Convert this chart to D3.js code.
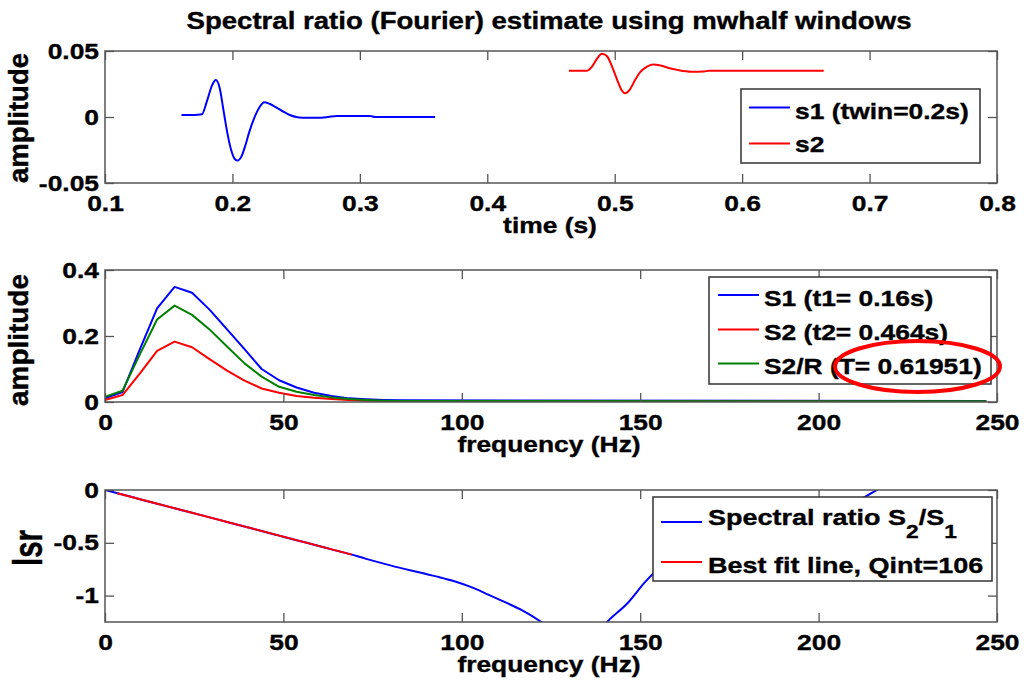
<!DOCTYPE html>
<html><head><meta charset="utf-8">
<script src="https://cdn.jsdelivr.net/npm/d3@7"></script>
<style>
body{margin:0;background:#fff}
text{font-family:"Liberation Sans",Arial,sans-serif;font-weight:bold;fill:#000;stroke:#000;stroke-width:0.35px}
</style>
</head><body>
<svg id="c" width="1024" height="685"></svg>
<script>
// ---------------- data ----------------
const titleText = "Spectral ratio (Fourier) estimate using mwhalf windows";

const timeTicks = [0.1,0.2,0.3,0.4,0.5,0.6,0.7,0.8];
const timeTickLabels = ["0.1","0.2","0.3","0.4","0.5","0.6","0.7","0.8"];
const ampTicks = [-0.05,0,0.05];
const ampTickLabels = ["-0.05","0","0.05"];

const s1Time = [0.160,0.170,0.176,0.180,0.184,0.187,0.190,0.193,0.196,0.199,0.202,0.204,0.207,0.210,0.213,0.217,0.221,0.225,0.229,0.234,0.240,0.245,0.250,0.255,0.270,0.275,0.282,0.308,0.312,0.359];
const s1Amp  = [0.0015,0.0015,0.002,0.012,0.024,0.028,0.022,0.005,-0.012,-0.025,-0.032,-0.033,-0.030,-0.022,-0.012,-0.001,0.007,0.0112,0.010,0.0075,0.004,0.0015,0.000,-0.0005,-0.0005,0.000,0.0008,0.0008,0.000,0.000];

const s2Time = [0.464,0.478,0.482,0.486,0.490,0.494,0.498,0.502,0.505,0.508,0.512,0.516,0.520,0.525,0.530,0.536,0.543,0.550,0.560,0.570,0.574,0.664];
const s2Amp  = [0.035,0.035,0.038,0.044,0.048,0.046,0.038,0.028,0.021,0.018,0.021,0.028,0.034,0.038,0.0398,0.039,0.037,0.0355,0.0343,0.0345,0.035,0.035];

const freqTicks = [0,50,100,150,200,250];
const freqTickLabels = ["0","50","100","150","200","250"];
const specTicks = [0,0.2,0.4];
const specTickLabels = ["0","0.2","0.4"];

const freq = [0,4.9,9.8,14.6,19.5,24.4,29.3,34.2,39.1,43.9,48.8,53.7,58.6,63.5,68.4,73.2,78.1,83.0,247];
const S1  = [0.011,0.030,0.16,0.284,0.349,0.331,0.28,0.22,0.16,0.10,0.066,0.044,0.028,0.018,0.011,0.008,0.006,0.005,0.003];
const S2  = [0.006,0.021,0.087,0.155,0.183,0.166,0.13,0.095,0.065,0.041,0.028,0.018,0.013,0.009,0.006,0.004,0.003,0.002,0.001];
const S2R = [0.016,0.034,0.145,0.25,0.292,0.264,0.22,0.168,0.117,0.077,0.046,0.031,0.021,0.014,0.009,0.006,0.004,0.003,0.002];

const lsrTicks = [-1,-0.5,0];
const lsrTickLabels = ["-1","-0.5","0"];
const lsrFreq = [0,4.9,9.8,14.6,19.5,24.4,29.3,34.2,39.1,43.9,48.8,53.7,58.6,63.5,68.4,73.2,78.1,83.0,87.9,92.8,97.7,102.5,107.4,112.3,117.2,122.1,127.0,131.8,136.7,141.6,146.5,151.4,156.3,161.1,170.9,180.7,190.4,200.2,210.0,214.8,219.7];
const lsr = [0,-0.043,-0.087,-0.13,-0.173,-0.216,-0.259,-0.303,-0.346,-0.389,-0.432,-0.475,-0.519,-0.562,-0.605,-0.652,-0.697,-0.74,-0.778,-0.818,-0.862,-0.918,-0.99,-1.065,-1.145,-1.245,-1.36,-1.43,-1.38,-1.22,-1.07,-0.87,-0.71,-0.60,-0.46,-0.38,-0.30,-0.22,-0.12,-0.03,0.07];
const fitFreq = [3.4,69.2];
const fitLsr = [-0.03,-0.612];

const legend1 = ["s1 (twin=0.2s)","s2"];
const legend2 = ["S1 (t1= 0.16s)","S2 (t2= 0.464s)","S2/R (T= 0.61951)"];
const legend3b = "Best fit line, Qint=106";

// ---------------- drawing ----------------
const svg = d3.select("#c");
const K = 1.2; // horizontal text stretch
const L = 105, R = 997;
const FRAME = "#555";

function htext(parent, x, y, str, size, anchor){
  const g = parent.append("g").attr("transform", `translate(${x},${y}) scale(${K},1)`);
  return g.append("text").attr("x",0).attr("y",0).attr("text-anchor",anchor||"start")
    .style("font-size", size+"px").text(str);
}
function vtext(x, y, str, size, len){
  const g = svg.append("g").attr("transform", `translate(${x},${y}) scale(${K},1) rotate(-90)`);
  g.append("text").attr("text-anchor","middle").style("font-size", size+"px")
    .attr("textLength", len).attr("lengthAdjust","spacingAndGlyphs").text(str);
}

let clipId = 0;
function panel(top, bottom, xs, ys, xt, xl, yt, yl){
  const id = "clip"+(clipId++);
  svg.append("clipPath").attr("id", id).append("rect")
    .attr("x", L).attr("y", top).attr("width", R-L).attr("height", bottom-top);
  const gData = svg.append("g").attr("clip-path", `url(#${id})`);
  const gAx = svg.append("g");
  const styleAxis = g => {
    g.attr("font-size", null).attr("font-family", null);
    g.select(".domain").remove();
    g.selectAll(".tick line").attr("stroke", FRAME).attr("stroke-width", 1.3);
    g.selectAll("text").style("font-size","22px").attr("fill","#000");
  };
  gAx.append("g").attr("transform", `translate(0,${bottom})`)
    .call(d3.axisBottom(xs).tickValues(xt).tickSize(-9).tickPadding(12).tickFormat((d,i)=>xl[i]))
    .call(styleAxis)
    .call(g => g.selectAll("text").attr("transform", `scale(${K},1)`));
  gAx.append("g").attr("transform", `translate(0,${top})`)
    .call(d3.axisTop(xs).tickValues(xt).tickSize(-9).tickFormat(""))
    .call(styleAxis);
  gAx.append("g").attr("transform", `translate(${L},0)`)
    .call(d3.axisLeft(ys).tickValues(yt).tickSize(-9).tickPadding(5).tickFormat((d,i)=>yl[i]))
    .call(styleAxis)
    .call(g => g.selectAll("text").attr("transform", `scale(${K},1)`));
  gAx.append("g").attr("transform", `translate(${R},0)`)
    .call(d3.axisRight(ys).tickValues(yt).tickSize(-9).tickFormat(""))
    .call(styleAxis);
  gAx.append("rect").attr("x", L).attr("y", top).attr("width", R-L).attr("height", bottom-top)
    .attr("fill","none").attr("stroke", FRAME).attr("stroke-width", 1.5);
  return {gData, gAx};
}

function drawLine(g, xs, ys, xv, yv, color, curve){
  const pts = xv.map((d,i)=>[d, yv[i]]);
  g.append("path").datum(pts)
    .attr("d", d3.line().x(d=>xs(d[0])).y(d=>ys(d[1])).curve(curve || d3.curveMonotoneX))
    .attr("fill","none").attr("stroke", color).attr("stroke-width", 2).attr("stroke-linejoin","round");
}

function legendBox(x0,y0,x1,y1){
  svg.append("rect").attr("x",x0).attr("y",y0).attr("width",x1-x0).attr("height",y1-y0)
    .attr("fill","#fff").attr("stroke","#333").attr("stroke-width",1.5);
}
function legendLine(x0,x1,y,color){
  svg.append("line").attr("x1",x0).attr("x2",x1).attr("y1",y).attr("y2",y)
    .attr("stroke",color).attr("stroke-width",2);
}

// Title
htext(svg, 549, 29, titleText, 23, "middle");

// ---- Panel 1: time series ----
{
  const top=51, bottom=183;
  const x = d3.scaleLinear().domain([0.1,0.8]).range([L,R]);
  const y = d3.scaleLinear().domain([-0.05,0.05]).range([bottom,top]);
  const p = panel(top,bottom,x,y,timeTicks,timeTickLabels,ampTicks,ampTickLabels);
  drawLine(p.gData,x,y,s1Time,s1Amp,"#0000ff");
  drawLine(p.gData,x,y,s2Time,s2Amp,"#ff0000");
  htext(svg, 550, 233, "time (s)", 22, "middle");
  vtext(28, 118, "amplitude", 23, 130);
  legendBox(741,89,980,163);
  legendLine(749,790,107.5,"#0000ff");
  legendLine(749,790,143.5,"#ff0000");
  htext(svg, 795, 118.5, legend1[0], 22, "start");
  htext(svg, 795, 151.5, legend1[1], 22, "start");
}

// ---- Panel 2: spectra ----
{
  const top=270, bottom=402;
  const x = d3.scaleLinear().domain([0,250]).range([L,R]);
  const y = d3.scaleLinear().domain([0,0.4]).range([bottom,top]);
  const p = panel(top,bottom,x,y,freqTicks,freqTickLabels,specTicks,specTickLabels);
  drawLine(p.gData,x,y,freq,S1,"#0000ff",d3.curveLinear);
  drawLine(p.gData,x,y,freq,S2,"#ff0000",d3.curveLinear);
  drawLine(p.gData,x,y,freq,S2R,"#008000",d3.curveLinear);
  htext(svg, 549, 452, "frequency (Hz)", 22, "middle");
  vtext(28, 340, "amplitude", 23, 132);
  legendBox(709,277,991,384);
  legendLine(718,759,295,"#0000ff");
  legendLine(718,759,329.5,"#ff0000");
  legendLine(718,759,363.5,"#008000");
  htext(svg, 764, 305.5, legend2[0], 22, "start");
  htext(svg, 764, 339.5, legend2[1], 22, "start");
  htext(svg, 764, 373.5, legend2[2], 22, "start");
  svg.append("ellipse").attr("cx",917.5).attr("cy",366.5).attr("rx",82.5).attr("ry",25.5)
    .attr("fill","none").attr("stroke","#ff0000").attr("stroke-width",4);
}

// ---- Panel 3: log spectral ratio ----
{
  const top=490, bottom=622;
  const x = d3.scaleLinear().domain([0,250]).range([L,R]);
  const y = d3.scaleLinear().domain([-1.25,0]).range([bottom,top]);
  const p = panel(top,bottom,x,y,freqTicks,freqTickLabels,lsrTicks,lsrTickLabels);
  drawLine(p.gData,x,y,lsrFreq,lsr,"#0000ff");
  drawLine(p.gData,x,y,fitFreq,fitLsr,"#ff0000");
  htext(svg, 549, 672, "frequency (Hz)", 22, "middle");
  vtext(42, 548, "lsr", 34, 36);
  legendBox(653,497,992,581);
  legendLine(661,702,522,"#0000ff");
  legendLine(661,702,562,"#ff0000");
  const t = htext(svg, 708, 525, "Spectral ratio S", 22.5, "start");
  t.append("tspan").attr("dy",13).style("font-size","19px").text("2");
  t.append("tspan").attr("dy",-13).style("font-size","22.5px").text("/S");
  t.append("tspan").attr("dy",13).style("font-size","19px").text("1");
  htext(svg, 708, 573, legend3b, 22.5, "start");
}
</script>
</body></html>
